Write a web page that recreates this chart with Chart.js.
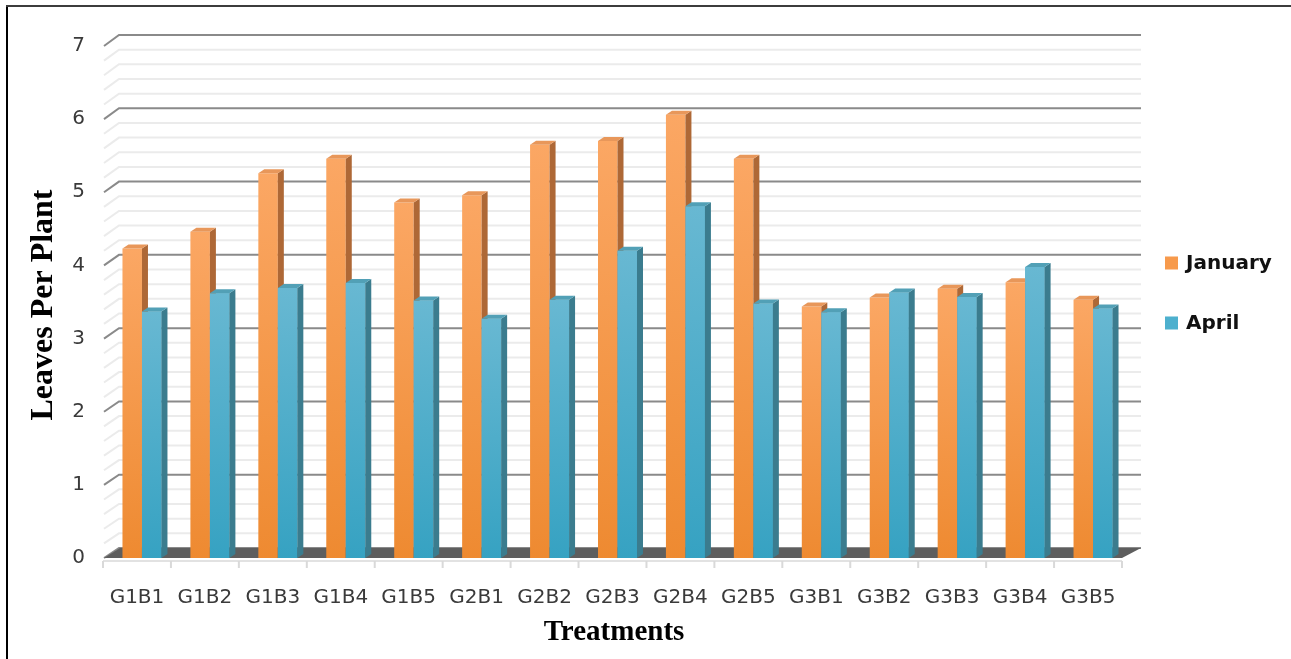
<!DOCTYPE html>
<html><head><meta charset="utf-8">
<script src="https://cdn.jsdelivr.net/npm/chart.js@4.4.1/dist/chart.umd.min.js"></script>
<style>html,body{margin:0;padding:0;background:#fff;}canvas{display:block;}</style>
</head><body>
<canvas id="c" width="1291" height="659"></canvas>
<script>
// ---- data ----
const categories = ['G1B1','G1B2','G1B3','G1B4','G1B5','G2B1','G2B2','G2B3','G2B4','G2B5','G3B1','G3B2','G3B3','G3B4','G3B5'];
const january = [4.23,4.46,5.26,5.46,4.86,4.96,5.65,5.70,6.06,5.46,3.44,3.56,3.68,3.77,3.53];
const april   = [3.37,3.62,3.69,3.76,3.52,3.27,3.53,4.20,4.81,3.48,3.36,3.63,3.57,3.98,3.41];
const seriesNames = ['January','April'];
const yMin = 0, yMax = 7, yStep = 1, yMinorStep = 0.2;
const xTitle = 'Treatments';
const yTitle = 'Leaves Per Plant';

// ---- style ----
const SHIFT_X = 5, DEPTH_X = 6, DEPTH_Y = 4, WALL_DX = 16, WALL_DY = 10;
const palette = [
  {top:'#FBA764', bottom:'#EE8A31', side:'#AE6836', cap:'#E8975A', legend:'#F79A4C'},
  {top:'#68B8D2', bottom:'#36A2C2', side:'#3B7C8E', cap:'#52A0B6', legend:'#4DB0CE'}
];

function grad(series) {
  return (c) => {
    const ch = c.chart, ys = ch.scales && ch.scales.y;
    if (!ys || c.type !== 'data') return palette[series].top;
    const v = c.parsed ? c.parsed.y : c.raw;
    const yt = ys.getPixelForValue(v), yb = ys.getPixelForValue(0);
    if (!isFinite(yt) || !isFinite(yb) || yt === yb) return palette[series].top;
    const g = ch.ctx.createLinearGradient(0, yt, 0, yb);
    g.addColorStop(0, palette[series].top);
    g.addColorStop(1, palette[series].bottom);
    return g;
  };
}

function faces(ctx, el, p) {
  const {x, y, base, width} = el.getProps(['x','y','base','width'], true);
  const l = x - width/2, r = x + width/2;
  ctx.fillStyle = p.side;
  ctx.beginPath();
  ctx.moveTo(r, y); ctx.lineTo(r + DEPTH_X, y - DEPTH_Y);
  ctx.lineTo(r + DEPTH_X, base - DEPTH_Y); ctx.lineTo(r, base); ctx.closePath(); ctx.fill();
  ctx.fillStyle = p.cap;
  ctx.beginPath();
  ctx.moveTo(l, y); ctx.lineTo(l + DEPTH_X, y - DEPTH_Y);
  ctx.lineTo(r + DEPTH_X, y - DEPTH_Y); ctx.lineTo(r, y); ctx.closePath(); ctx.fill();
}

const excel3d = {
  id: 'excel3d',
  beforeDraw(chart) {
    const {ctx, width, height} = chart;
    ctx.save(); ctx.fillStyle = '#fff'; ctx.fillRect(0, 0, width, height); ctx.restore();
  },
  beforeDatasetsDraw(chart) {
    const {ctx, chartArea: a, scales: {x, y}} = chart;
    const backRight = a.right + 19;
    ctx.save();
    // minor then major wall grid
    const n = Math.round((yMax - yMin) / yMinorStep);
    const lines = [];
    for (let i = 0; i <= n; i++) lines.push(yMin + i * yMinorStep);
    for (const major of [false, true]) {
      ctx.strokeStyle = major ? '#8A8A8A' : '#EBEBEB';
      ctx.lineWidth = 2;
      for (const v of lines) {
        const isMajor = Math.abs(v / yStep - Math.round(v / yStep)) < 1e-6;
        if (isMajor !== major) continue;
        const yf = y.getPixelForValue(v), yb = yf - WALL_DY - (v / yMax);
        ctx.beginPath();
        ctx.moveTo(a.left + 1, yf);
        ctx.lineTo(a.left + WALL_DX, yb);
        ctx.lineTo(backRight, yb);
        ctx.stroke();
      }
    }
    // floor
    const y0 = y.getPixelForValue(0);
    ctx.fillStyle = '#5E5E5E';
    ctx.beginPath();
    ctx.moveTo(a.left + 1, y0);
    ctx.lineTo(a.left + WALL_DX + 1, y0 - WALL_DY);
    ctx.lineTo(backRight, y0 - WALL_DY);
    ctx.lineTo(a.right, y0);
    ctx.closePath(); ctx.fill();
    // front axis line and ticks
    ctx.strokeStyle = '#D9D9D9'; ctx.lineWidth = 1.5;
    ctx.beginPath(); ctx.moveTo(a.left, y0 + 3); ctx.lineTo(a.right, y0 + 3); ctx.stroke();
    const cw = (a.right - a.left) / categories.length;
    ctx.lineWidth = 2;
    for (let i = 0; i <= categories.length; i++) {
      const xp = (i < categories.length ? x.getPixelForValue(i) - cw/2 : x.getPixelForValue(i - 1) + cw/2);
      ctx.beginPath(); ctx.moveTo(xp, y0 + 3); ctx.lineTo(xp, y0 + 10); ctx.stroke();
    }
    ctx.restore();
    ctx.save();
    ctx.translate(SHIFT_X, 0);
  },
  afterDatasetsDraw(chart) {
    const {ctx} = chart;
    const m0 = chart.getDatasetMeta(0), m1 = chart.getDatasetMeta(1);
    for (let i = 0; i < categories.length; i++) {
      faces(ctx, m0.data[i], palette[0]);
      m1.data[i].draw(ctx);
      faces(ctx, m1.data[i], palette[1]);
    }
    ctx.restore();
  },
  afterDraw(chart) {
    const {ctx, chartArea: a} = chart;
    ctx.save();
    // legend
    const lx = 1165, ly = [263, 323];
    ctx.font = 'bold 20px "DejaVu Sans"';
    ctx.textBaseline = 'middle'; ctx.textAlign = 'left';
    seriesNames.forEach((name, i) => {
      ctx.fillStyle = palette[i].legend;
      ctx.fillRect(lx, ly[i] - 6.5, 13, 13);
      ctx.fillStyle = '#111';
      ctx.fillText(name, lx + 21, ly[i] + 1);
    });
    // titles
    ctx.fillStyle = '#000';
    ctx.font = 'bold 29px "Liberation Serif"';
    ctx.textAlign = 'center'; ctx.textBaseline = 'alphabetic';
    ctx.fillText(xTitle, 614, 640);
    ctx.save();
    ctx.translate(52, 305); ctx.rotate(-Math.PI/2);
    ctx.font = 'bold 32px "Liberation Serif"';
    ctx.fillText(yTitle, 0, 0);
    ctx.restore();
    // frame
    ctx.fillStyle = '#000'; ctx.fillRect(6, 6, 2, 653);
    ctx.fillStyle = '#3C3C3C'; ctx.fillRect(6, 5, 1285, 2);
    ctx.restore();
  }
};

new Chart(document.getElementById('c'), {
  type: 'bar',
  data: {
    labels: categories,
    datasets: [
      {label: seriesNames[0], data: january, backgroundColor: grad(0), borderWidth: 0},
      {label: seriesNames[1], data: april, backgroundColor: grad(1), borderWidth: 0}
    ]
  },
  options: {
    responsive: false, animation: false, events: [],
    categoryPercentage: 0.574, barPercentage: 1.0,
    layout: {padding: {left: 0, top: 46, right: 169, bottom: 0}},
    plugins: {legend: {display: false}, tooltip: {enabled: false}},
    datasets: {bar: {clip: false}},
    scales: {
      x: {
        grid: {display: false, drawTicks: true, tickLength: 8}, border: {display: false},
        ticks: {font: {family: 'DejaVu Sans', size: 20}, color: '#3A3A3A', padding: 20, maxRotation: 0, autoSkip: false},
        afterFit(s) { s.height = 101; }
      },
      y: {
        min: yMin, max: yMax,
        grid: {display: false, drawTicks: false}, border: {display: false},
        ticks: {stepSize: yStep, font: {family: 'DejaVu Sans', size: 20}, color: '#3A3A3A', padding: 18},
        afterFit(s) { s.width = 103; }
      }
    }
  },
  plugins: [excel3d]
});
</script>
</body></html>
